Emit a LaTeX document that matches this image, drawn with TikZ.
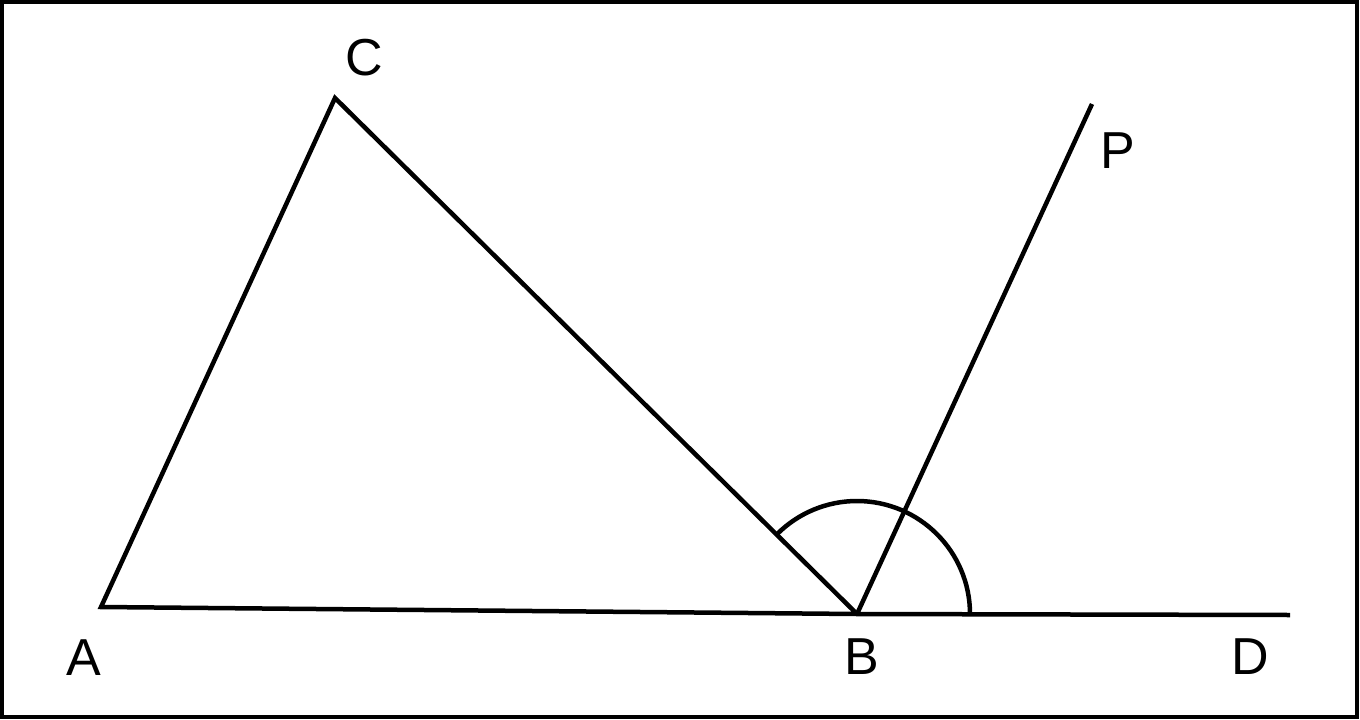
\documentclass[tikz,border=0pt]{standalone}
\usepackage{fontspec}
\setmainfont{Liberation Sans}
\begin{document}
\begin{tikzpicture}[x=1pt,y=-1pt,
  geo/.style={line width=4.5pt},
  frame/.style={line width=4pt},
  lbl/.style={anchor=base,inner sep=0pt,font=\fontsize{52}{60}\selectfont}]
\useasboundingbox (0,0) rectangle (1360,720);
\draw[frame] (2,2) rectangle (1357,717);
\coordinate (A) at (101,607);
\coordinate (C) at (335,98);
\coordinate (B) at (857,614);
\coordinate (D) at (1290,615);
\coordinate (P) at (1092,104);
\draw[geo] (B) -- (A) -- (C) -- (B);
\draw[geo] (B) -- (D);
\draw[geo] (B) -- (P);
\draw[geo] (B) ++(113,0) arc[start angle=0,end angle=-135,radius=113];
\node[lbl] (lA) at (84,675) {A};
\node[lbl] (lB) at (862,674) {B};
\node[lbl] (lC) at (364,75) {C};
\node[lbl] (lD) at (1250,674) {D};
\node[lbl] (lP) at (1118,168) {P};
\end{tikzpicture}
\end{document}
